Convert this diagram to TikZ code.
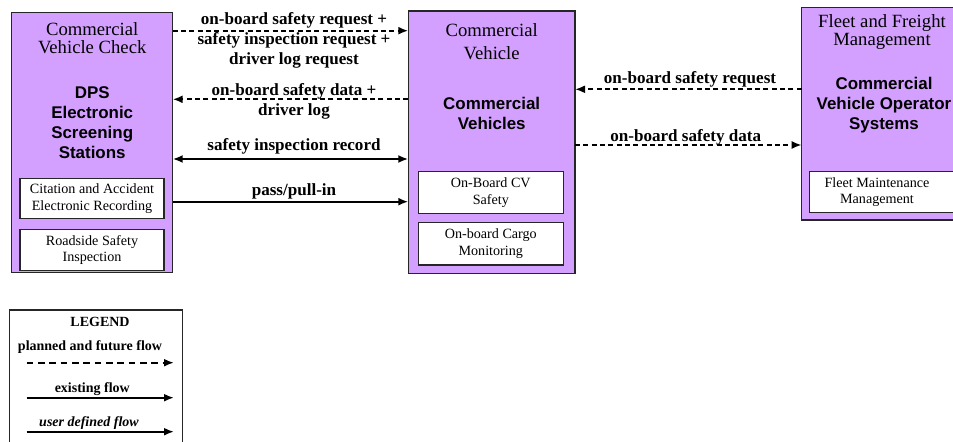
\documentclass[tikz,border=0pt]{standalone}
\usepackage{fontspec}
\setmainfont{Liberation Serif}
\newfontfamily\arialfont{Liberation Sans}
\usepackage{tikz}
\usetikzlibrary{arrows.meta}
\definecolor{sysfill}{RGB}{212,160,255}
\tikzset{
  sysbox/.style={draw=black!85, fill=sysfill, line width=0.9pt, anchor=north west, inner sep=0pt, outer sep=0pt},
  subbox/.style={draw=black!85, fill=white, line width=0.9pt, anchor=north west, inner sep=0pt, outer sep=0pt, align=center, font=\fontsize{10.6}{12.5}\selectfont},
  titletext/.style={align=center, inner sep=0pt, font=\fontsize{14}{13.5}\selectfont},
  systext/.style={align=center, inner sep=0pt, font=\arialfont\bfseries\fontsize{12.7}{15}\selectfont},
  flowlabel/.style={align=center, inner sep=0pt, font=\bfseries\fontsize{12.8}{15}\selectfont},
  legendtext/.style={inner sep=0pt, font=\bfseries\fontsize{10.5}{12}\selectfont},
  plannedflow/.style={-{Latex[length=7.5pt,width=6pt]}, line width=1.7pt, dash pattern=on 3.75pt off 2.5pt},
  existingflow/.style={-{Latex[length=7.5pt,width=6pt]}, line width=1.7pt},
}

\begin{document}
\begin{tikzpicture}[x=0.75pt, y=-0.75pt]
  \clip (0,0) rectangle (953,442);
  % systems
  \node[sysbox, minimum width=161*0.75pt, minimum height=260*0.75pt] (cvc) at (11.7,12.7) {};
  \node[sysbox, minimum width=166.7*0.75pt, minimum height=262.3*0.75pt] (cv) at (408.3,11) {};
  \node[sysbox, minimum width=160*0.75pt, minimum height=212.7*0.75pt] (ffm) at (801.7,7.3) {};
  % titles
  \node[titletext] (cvctitle) at (92.2,38.2) {Commercial\\Vehicle Check};
  \node[titletext, font=\fontsize{14}{17.5}\selectfont] (cvtitle) at (491.7,41.5) {Commercial\\Vehicle};
  \node[titletext] (ffmtitle) at (882,32.5) {Fleet and Freight\\Management};
  \node[systext] (dps) at (92.2,122.5) {DPS\\Electronic\\Screening\\Stations};
  \node[systext] (cvs) at (491.7,113.3) {Commercial\\Vehicles};
  \node[systext] (cvos) at (884,105.5) {Commercial\\Vehicle Operator\\Systems};
  % equipment packages
  \node[subbox, minimum width=144*0.75pt, minimum height=40*0.75pt] (citation) at (20,178.3) {Citation and Accident\\Electronic Recording};
  \node[subbox, minimum width=144*0.75pt, minimum height=41.4*0.75pt] (roadside) at (20,229.3) {Roadside Safety\\Inspection};
  \node[subbox, minimum width=145*0.75pt, minimum height=41.6*0.75pt] (obcv) at (418.3,171.7) {On-Board CV\\Safety};
  \node[subbox, minimum width=145*0.75pt, minimum height=42.3*0.75pt] (cargo) at (418.3,222.7) {On-board Cargo\\Monitoring};
  \node[subbox, minimum width=145*0.75pt, minimum height=41*0.75pt] (fleetmaint) at (809.3,171.7) {};
  \node[subbox, draw=none, fill=none, anchor=center] (fleetmainttext) at (877,192.2) {Fleet Maintenance\\Management};
  % flows
  \draw[plannedflow] (cvc.east |- 0,30.7) -- (cv.west |- 0,30.7);
  \draw[plannedflow] (cv.west |- 0,99.3) -- (cvc.east |- 0,99.3);
  \draw[existingflow, {Latex[length=7.5pt,width=6pt]}-{Latex[length=7.5pt,width=6pt]}] (cvc.east |- 0,159) -- (cv.west |- 0,159);
  \draw[existingflow] (cvc.east |- 0,201.7) -- (cv.west |- 0,201.7);
  \draw[plannedflow] (ffm.west |- 0,89.3) -- (cv.east |- 0,89.3);
  \draw[plannedflow] (cv.east |- 0,145) -- (ffm.west |- 0,145);
  \node[flowlabel] (req) at (294,40.3) {on-board safety request +\\safety inspection request +\\driver log request};
  \node[flowlabel] (data) at (294,101.7) {on-board safety data +\\driver log};
  \node[flowlabel] (record) at (294,146.7) {safety inspection record};
  \node[flowlabel] (pass) at (294,191.7) {pass/pull-in};
  \node[flowlabel] (obreq) at (690,79) {on-board safety request};
  \node[flowlabel] (obdata) at (685.7,137.3) {on-board safety data};
  % legend
  \node[draw=black!85, fill=white, line width=0.9pt, anchor=north west, inner sep=0pt,
        minimum width=172.7*0.75pt, minimum height=150*0.75pt] (legend) at (9,309.3) {};
  \node[legendtext] (legendtitle) at (100,321.7) {LEGEND};
  \node[legendtext] (lgplanned) at (90,346.7) {planned and future flow};
  \node[legendtext] (lgexisting) at (92.3,389.3) {existing flow};
  \node[legendtext, font=\bfseries\itshape\fontsize{10.5}{12}\selectfont] (lguser) at (89,422.7) {user defined flow};
  \coordinate (lgplannedA) at (26.7,362.7);
  \coordinate (lgplannedB) at (174,362.7);
  \coordinate (lgexistingA) at (26.7,397.7);
  \coordinate (lgexistingB) at (174,397.7);
  \coordinate (lguserA) at (26.7,431.7);
  \coordinate (lguserB) at (174,431.7);
  \draw[plannedflow, dash pattern=on 5pt off 3.5pt] (lgplannedA) -- (lgplannedB);
  \draw[existingflow] (lgexistingA) -- (lgexistingB);
  \draw[existingflow] (lguserA) -- (lguserB);
\end{tikzpicture}
\end{document}
